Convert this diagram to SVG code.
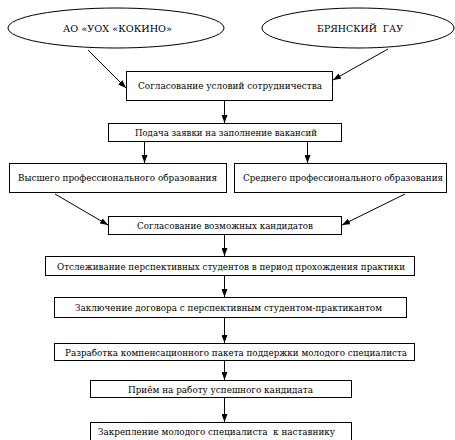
<svg xmlns="http://www.w3.org/2000/svg" width="455" height="440" viewBox="0 0 455 440">
<defs>
<marker id="ah" viewBox="0 0 8 6" refX="8" refY="3" markerWidth="8" markerHeight="6" markerUnits="userSpaceOnUse" orient="auto">
<path d="M0,0 L8,3 L0,6 Z" fill="#000"/>
</marker>
<style>
.n{fill:#fff;stroke:#000;stroke-width:1}
text{font-family:'DejaVu Serif Condensed','DejaVu Serif','Liberation Serif',serif;font-stretch:condensed;font-size:10px;fill:#000;text-anchor:middle;white-space:pre}
.c{stroke:#000;stroke-width:1;fill:none;marker-end:url(#ah)}
</style>
</defs>
<rect width="455" height="440" fill="#fff"/>
<g id="connectors">
<line class="c" x1="88" y1="50" x2="126" y2="88"/>
<line class="c" x1="388" y1="49" x2="333" y2="80"/>
<line class="c" x1="224.5" y1="101" x2="224.5" y2="123"/>
<line class="c" x1="144.5" y1="142" x2="144.5" y2="163"/>
<line class="c" x1="307.5" y1="142" x2="307.5" y2="163"/>
<line class="c" x1="55" y1="194" x2="108" y2="225"/>
<line class="c" x1="405" y1="194" x2="342" y2="225"/>
<line class="c" x1="224.5" y1="235" x2="224.5" y2="256"/>
<line class="c" x1="224.5" y1="276" x2="224.5" y2="297"/>
<line class="c" x1="224.5" y1="318" x2="224.5" y2="343"/>
<line class="c" x1="224.5" y1="361" x2="224.5" y2="380"/>
<line class="c" x1="224.5" y1="398" x2="224.5" y2="422"/>
</g>
<g id="kokino">
<ellipse class="n" cx="116" cy="28" rx="108" ry="20"/>
<text x="117.5" y="32" textLength="109" lengthAdjust="spacingAndGlyphs">АО «УОХ «КОКИНО»</text>
</g>
<g id="gau">
<ellipse class="n" cx="358" cy="28" rx="96" ry="20"/>
<text x="360" y="32" textLength="86" lengthAdjust="spacingAndGlyphs">БРЯНСКИЙ  ГАУ</text>
</g>
<g id="agree">
<rect class="n" x="126.5" y="71.5" width="206" height="29"/>
<text x="230" y="89" textLength="184" lengthAdjust="spacingAndGlyphs">Согласование условий сотрудничества</text>
</g>
<g id="apply">
<rect class="n" x="108.5" y="123.5" width="233" height="18"/>
<text x="226" y="136" textLength="182" lengthAdjust="spacingAndGlyphs">Подача заявки на заполнение вакансий</text>
</g>
<g id="higher">
<rect class="n" x="9.5" y="163.5" width="217" height="29"/>
<text x="117.5" y="181" textLength="199" lengthAdjust="spacingAndGlyphs">Высшего профессионального образования</text>
</g>
<g id="secondary">
<rect class="n" x="234.5" y="163.5" width="212" height="29"/>
<text x="343" y="181" textLength="200" lengthAdjust="spacingAndGlyphs">Среднего профессионального образования</text>
</g>
<g id="candidates">
<rect class="n" x="108.5" y="216.5" width="233" height="18"/>
<text x="225" y="229" textLength="176" lengthAdjust="spacingAndGlyphs">Согласование возможных кандидатов</text>
</g>
<g id="tracking">
<rect class="n" x="45.5" y="256.5" width="369" height="19"/>
<text x="231" y="270" textLength="348" lengthAdjust="spacingAndGlyphs">Отслеживание перспективных студентов в период прохождения практики</text>
</g>
<g id="contract">
<rect class="n" x="54.5" y="297.5" width="352" height="20"/>
<text x="228.5" y="311" textLength="307" lengthAdjust="spacingAndGlyphs">Заключение договора с перспективным студентом-практикантом</text>
</g>
<g id="package">
<rect class="n" x="54.5" y="343.5" width="360" height="17"/>
<text x="236" y="356" textLength="342" lengthAdjust="spacingAndGlyphs">Разработка компенсационного пакета поддержки молодого специалиста</text>
</g>
<g id="hire">
<rect class="n" x="90.5" y="380.5" width="261" height="17"/>
<text x="220.5" y="393" textLength="185" lengthAdjust="spacingAndGlyphs">Приём на работу успешного кандидата</text>
</g>
<g id="mentor">
<rect class="n" x="90.5" y="422.5" width="261" height="30"/>
<text x="216.5" y="435" textLength="237" lengthAdjust="spacingAndGlyphs">Закрепление молодого специалиста  к наставнику</text>
</g>
</svg>
